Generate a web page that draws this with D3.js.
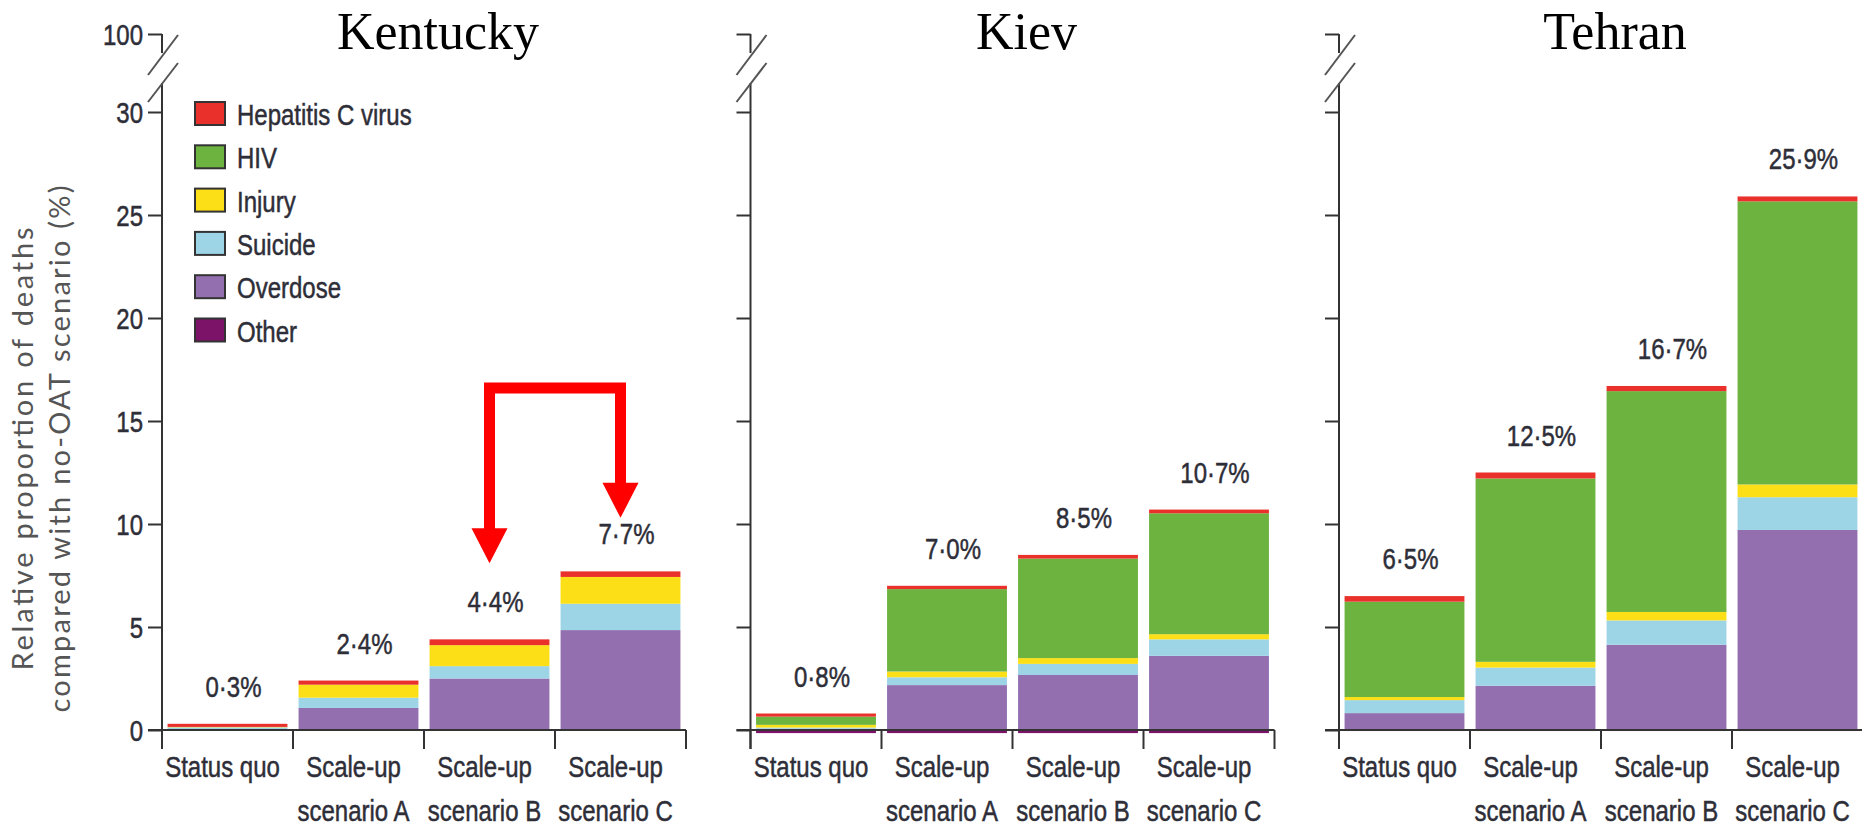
<!DOCTYPE html>
<html>
<head>
<meta charset="utf-8">
<script src="https://cdn.jsdelivr.net/npm/d3@7"></script>
<style>
  html, body { margin: 0; padding: 0; background: #fff; }
  svg { display: block; }
  .narrow { font-family: "Liberation Sans", Arial, sans-serif; }
  .narrow text { stroke: #2e2e38; stroke-width: 0.5px; }
</style>
</head>
<body>
<svg id="chart" width="1862" height="827"></svg>
<script>
// ---- data ---------------------------------------------------------------
const cities = ["Kentucky", "Kiev", "Tehran"];
const scenarios = ["Status quo", "Scale-up scenario A", "Scale-up scenario B", "Scale-up scenario C"];
const scenarioLines = [["Status quo"], ["Scale-up", "scenario A"], ["Scale-up", "scenario B"], ["Scale-up", "scenario C"]];
// stacking order, bottom to top
const causes = ["Other", "Overdose", "Suicide", "Injury", "HIV", "Hepatitis C virus"];
const causeColors = ["#7d1368", "#946fb0", "#9dd5e7", "#fcdf16", "#6db33f", "#e9302a"];
const yTicks = [0, 5, 10, 15, 20, 25, 30];
const breakTick = 100;

// relative proportion of deaths averted (%), per scenario
const kentuckyOther    = [0, 0, 0, 0];
const kentuckyOverdose = [0.03, 1.07, 2.50, 4.85];
const kentuckySuicide  = [0.10, 0.50, 0.60, 1.28];
const kentuckyInjury   = [0.02, 0.63, 1.02, 1.30];
const kentuckyHIV      = [0, 0, 0, 0];
const kentuckyHCV      = [0.15, 0.20, 0.28, 0.27];

const kievOther    = [-0.15, -0.15, -0.15, -0.15];
const kievOverdose = [0.06, 2.18, 2.67, 3.60];
const kievSuicide  = [0.06, 0.38, 0.54, 0.80];
const kievInjury   = [0.13, 0.28, 0.28, 0.25];
const kievHIV      = [0.40, 4.00, 4.83, 5.87];
const kievHCV      = [0.15, 0.16, 0.18, 0.18];

const tehranOther    = [-0.05, -0.05, -0.05, -0.05];
const tehranOverdose = [0.82, 2.15, 4.14, 9.71];
const tehranSuicide  = [0.63, 0.88, 1.18, 1.59];
const tehranInjury   = [0.15, 0.28, 0.41, 0.62];
const tehranHIV      = [4.63, 8.90, 10.72, 13.74];
const tehranHCV      = [0.27, 0.29, 0.25, 0.24];

const cityValues = {
  Kentucky: [kentuckyOther, kentuckyOverdose, kentuckySuicide, kentuckyInjury, kentuckyHIV, kentuckyHCV],
  Kiev:     [kievOther, kievOverdose, kievSuicide, kievInjury, kievHIV, kievHCV],
  Tehran:   [tehranOther, tehranOverdose, tehranSuicide, tehranInjury, tehranHIV, tehranHCV]
};

// ---- layout ---------------------------------------------------------------
const svg = d3.select("#chart");
const axisColor = "#333";
const textColor = "#2e2e38";
const squeeze = 0.8;           // horizontal compression for the condensed labels
const fontPx = "30px";
const color = d3.scaleOrdinal().domain(causes).range(causeColors);

const panel = d3.scaleBand().domain(cities).range([162, 1863]).paddingInner(0.1096);
const y = d3.scaleLinear().domain([0, 30]).range([730, 112]);
const yBreak = d3.scaleLinear().domain([30, breakTick]).range([y(30), y(30) - 78]);

const stack = d3.stack().keys(causes).offset(d3.stackOffsetDiverging);
const fmtPct = v => v.toFixed(1).replace(".", "\u00B7") + "%";
const at = (px, py) => `translate(${px},${py}) scale(${squeeze},1)`;

// y-axis title
const yTitle = svg.append("g")
  .attr("transform", `translate(0,449) rotate(-90)`)
  .attr("fill", "#555")
  .style("font-family", "Lato, 'Open Sans', sans-serif")
  .style("font-size", "29px")
  .attr("text-anchor", "middle");
yTitle.append("text").attr("x", 0).attr("y", 33)
  .attr("textLength", 443).attr("lengthAdjust", "spacing")
  .text("Relative proportion of deaths");
yTitle.append("text").attr("x", 0).attr("y", 70)
  .attr("textLength", 527).attr("lengthAdjust", "spacing")
  .text("compared with no-OAT scenario  (%)");

function styleAxis(sel) {
  sel.select(".domain").remove();
  sel.selectAll(".tick line").attr("stroke", axisColor).attr("stroke-width", 2);
  sel.selectAll(".tick text")
    .attr("fill", textColor).style("font-size", fontPx)
    .attr("x", null).attr("dy", "0.34em")
    .attr("transform", `translate(-19,0) scale(${squeeze},1)`);
}

cities.forEach((city, ci) => {
  const rows = scenarios.map((s, i) => {
    const r = { scenario: s };
    causes.forEach((c, k) => { r[c] = cityValues[city][k][i]; });
    return r;
  });
  const series = stack(rows);
  const total = d => d3.sum(causes, c => Math.max(0, d[c]));

  const g = svg.append("g").attr("transform", `translate(${panel(city)},0)`);
  const w = panel.bandwidth();
  const x = d3.scaleBand().domain(scenarios).range([0, w]).paddingInner(0.085).paddingOuter(0.0425);
  const cx = s => x(s) + x.bandwidth() / 2;

  // stacked bars
  g.append("g").selectAll("g")
    .data(series)
    .join("g")
    .attr("fill", d => color(d.key))
    .selectAll("rect")
    .data(d => d)
    .join("rect")
    .attr("x", d => x(d.data.scenario))
    .attr("width", x.bandwidth())
    .attr("y", d => y(Math.max(d[0], d[1])))
    .attr("height", d => Math.abs(y(d[0]) - y(d[1])));

  // value labels (top of the upward stack)
  g.append("g").attr("class", "narrow")
    .style("font-size", fontPx).attr("fill", textColor).attr("text-anchor", "middle")
    .selectAll("text")
    .data(rows)
    .join("text")
    .attr("transform", d => at(cx(d.scenario) + 6, y(total(d)) - 27))
    .text(d => fmtPct(total(d)));

  // y axis (ticks and labels)
  const labelFmt = ci === 0 ? d3.format("d") : () => "";
  const ya = g.append("g").attr("class", "narrow")
    .call(d3.axisLeft(y).tickValues(yTicks).tickSize(14).tickFormat(labelFmt));
  styleAxis(ya);

  // broken upper part of the axis with the 100 tick
  const yb = g.append("g").attr("class", "narrow")
    .call(d3.axisLeft(yBreak).tickValues([breakTick]).tickSize(14).tickFormat(labelFmt));
  styleAxis(yb);

  const top = yBreak(breakTick);
  g.append("line").attr("x1", 0).attr("x2", 0).attr("y1", top).attr("y2", top + 19)
    .attr("stroke", axisColor).attr("stroke-width", 2);
  g.append("line").attr("x1", 0).attr("x2", 0).attr("y1", y(30) - 29).attr("y2", y(0) + 19)
    .attr("stroke", axisColor).attr("stroke-width", 2);
  [[41, 1], [68, 29]].forEach(([lo, hi]) => {
    g.append("line")
      .attr("x1", -14).attr("y1", top + lo)
      .attr("x2", 16).attr("y2", top + hi)
      .attr("stroke", "#555").attr("stroke-width", 2);
  });

  // x axis with category dividers
  g.append("line").attr("x1", -14).attr("x2", w).attr("y1", y(0)).attr("y2", y(0))
    .attr("stroke", axisColor).attr("stroke-width", 2);
  g.append("g").selectAll("line")
    .data(d3.range(scenarios.length + 1))
    .join("line")
    .attr("x1", i => i * x.step()).attr("x2", i => i * x.step())
    .attr("y1", y(0)).attr("y2", y(0) + 19)
    .attr("stroke", axisColor).attr("stroke-width", 2);

  // category labels
  const xl = g.append("g").attr("class", "narrow")
    .style("font-size", fontPx).attr("fill", textColor).attr("text-anchor", "middle");
  scenarios.forEach((s, i) => {
    const t = xl.append("text").attr("transform", at(cx(s) - 5, y(0) + 47));
    scenarioLines[i].forEach((line, li) => {
      t.append("tspan").attr("x", 0).attr("dy", li === 0 ? 0 : 44).text(line);
    });
  });

  // panel title
  g.append("text")
    .attr("x", w / 2 + 14).attr("y", 49)
    .attr("text-anchor", "middle")
    .style("font-family", "'Liberation Serif', 'Times New Roman', serif")
    .style("font-size", "52px")
    .attr("fill", "#000")
    .text(city);

  if (ci === 0) {
    // legend
    const legend = g.append("g").attr("class", "narrow").attr("transform", `translate(33,${y(30) - 10})`);
    causes.slice().reverse().forEach((c, i) => {
      const row = legend.append("g").attr("transform", `translate(0,${i * 43.3})`);
      row.append("rect").attr("width", 30).attr("height", 23)
        .attr("fill", color(c)).attr("stroke", "#333").attr("stroke-width", 2);
      row.append("text").attr("transform", at(42, 23))
        .style("font-size", fontPx).attr("fill", textColor).text(c);
    });

    // red bracket arrow from scenario B to scenario C
    const xB = cx("Scale-up scenario B");
    const xC = cx("Scale-up scenario C");
    const yTop = y(16.6), tipB = y(8.1), tipC = y(10.3);
    const headH = 35, headW = 36;
    g.append("path")
      .attr("d", `M${xB},${tipB - headH + 1}V${yTop}H${xC}V${tipC - headH + 1}`)
      .attr("fill", "none").attr("stroke", "#ff0000").attr("stroke-width", 11)
      .attr("stroke-linejoin", "miter");
    [[xB, tipB], [xC, tipC]].forEach(([ax, ty]) => {
      g.append("path")
        .attr("d", `M${ax - headW / 2},${ty - headH}L${ax + headW / 2},${ty - headH}L${ax},${ty}Z`)
        .attr("fill", "#ff0000");
    });
  }
});
</script>
</body>
</html>
